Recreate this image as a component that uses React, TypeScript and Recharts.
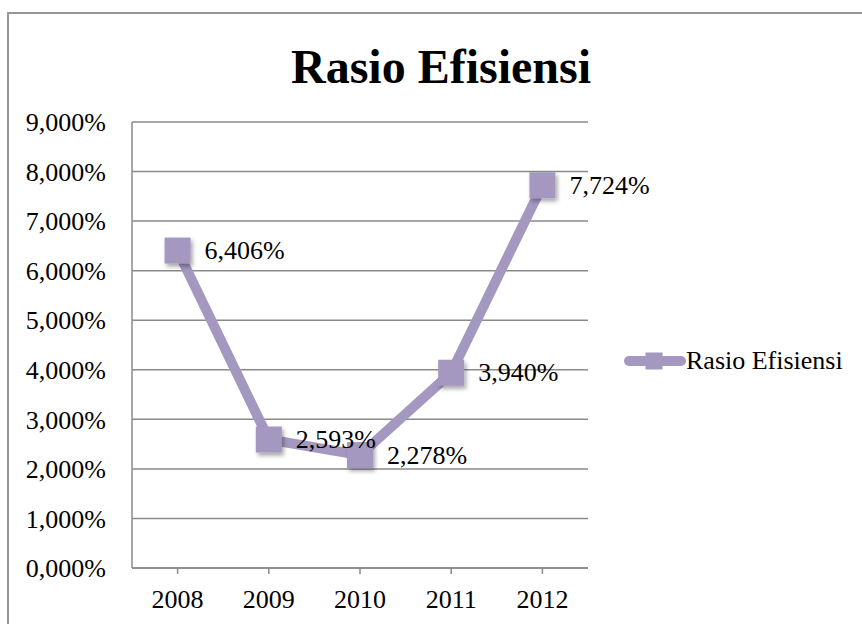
import React from 'react';
import { LineChart, Line, XAxis, YAxis, CartesianGrid, Legend, LabelList } from 'recharts';

const years = ['2008', '2009', '2010', '2011', '2012'];
const rasioEfisiensi = [6.406, 2.593, 2.278, 3.94, 7.724];
const yTicks = [0, 1, 2, 3, 4, 5, 6, 7, 8, 9];
const seriesName = 'Rasio Efisiensi';
const chartTitle = 'Rasio Efisiensi';

const data = years.map((y, i) => ({ year: y, value: rasioEfisiensi[i] }));

const FONT = 'Liberation Serif';
const LINE = '#A498C0';
const GRID = '#8a8a8a';

const fmt = (v: number) => v.toFixed(3).replace('.', ',') + '%';

const SquareDot = (props: any) => {
  const { cx, cy, index } = props;
  if (cx == null || cy == null) return null;
  const id = `dotshadow${index}`;
  return (
    <g key={id}>
      <defs>
        <filter id={id} x="-50%" y="-50%" width="200%" height="200%">
          <feDropShadow dx="2" dy="3" stdDeviation="2" floodColor="#000" floodOpacity="0.35" />
        </filter>
      </defs>
      <rect x={cx - 13} y={cy - 13} width={26} height={26} fill={LINE} filter={`url(#${id})`} />
    </g>
  );
};

const DataLabel = (props: any) => {
  const { x, y, value } = props;
  return (
    <text x={x + 27} y={y} dominantBaseline="central" fontSize={26} fontFamily={FONT} fill="#000">
      {fmt(value)}
    </text>
  );
};

const LegendContent = () => (
  <div style={{ display: 'flex', alignItems: 'center', fontFamily: FONT, fontSize: 26, color: '#000', whiteSpace: 'nowrap' }}>
    <svg width={62} height={20} style={{ display: 'block' }}>
      <line x1={5} y1={10} x2={57} y2={10} stroke={LINE} strokeWidth={10} strokeLinecap="round" />
      <rect x={21.5} y={1.5} width={17} height={17} fill={LINE} />
    </svg>
    <span>{seriesName}</span>
  </div>
);

export default function App() {
  return (
    <div style={{ position: 'absolute', left: 0, top: 0, width: 862, height: 624, overflow: 'hidden', background: '#fff', fontFamily: FONT }}>
      <div style={{ position: 'absolute', left: 7, top: 12, width: 900, height: 700, border: '2px solid #959595', boxSizing: 'border-box' }} />
      <div style={{ position: 'absolute', left: 0, top: 43, width: 882, textAlign: 'center', fontFamily: FONT, fontWeight: 'bold', fontSize: 48, lineHeight: '48px', color: '#000' }}>
        {chartTitle}
      </div>
      <div style={{ position: 'absolute', left: 0, top: 0 }}>
        <LineChart width={862} height={624} data={data} margin={{ top: 122, right: 274, bottom: 16, left: 0 }} style={{ fontFamily: FONT }}>
          <CartesianGrid horizontal={true} vertical={false} stroke={GRID} strokeWidth={1.5} />
          <XAxis
            dataKey="year"
            padding={{ left: 45.6, right: 45.6 }}
            height={40}
            axisLine={{ stroke: GRID, strokeWidth: 1.5 }}
            tickLine={{ stroke: GRID, strokeWidth: 1.5 }}
            tickSize={6}
            tickMargin={16}
            tick={{ fill: '#000', fontSize: 26, fontFamily: FONT }}
          />
          <YAxis
            domain={[0, 9]}
            ticks={yTicks}
            width={132}
            axisLine={{ stroke: GRID, strokeWidth: 1.5 }}
            tickLine={false}
            tickSize={0}
            tickMargin={26}
            tickFormatter={(v: number) => fmt(v)}
            tick={{ fill: '#000', fontSize: 26, fontFamily: FONT }}
            interval={0}
          />
          <Legend
            layout="vertical"
            align="center"
            verticalAlign="middle"
            content={<LegendContent />}
            wrapperStyle={{ position: 'absolute', left: 624, top: 346, width: 235 }}
          />
          <Line
            type="linear"
            dataKey="value"
            name={seriesName}
            stroke={LINE}
            strokeWidth={10}
            strokeLinejoin="round"
            dot={<SquareDot />}
            activeDot={false}
            isAnimationActive={false}
          >
            <LabelList dataKey="value" content={<DataLabel />} />
          </Line>
        </LineChart>
      </div>
    </div>
  );
}
